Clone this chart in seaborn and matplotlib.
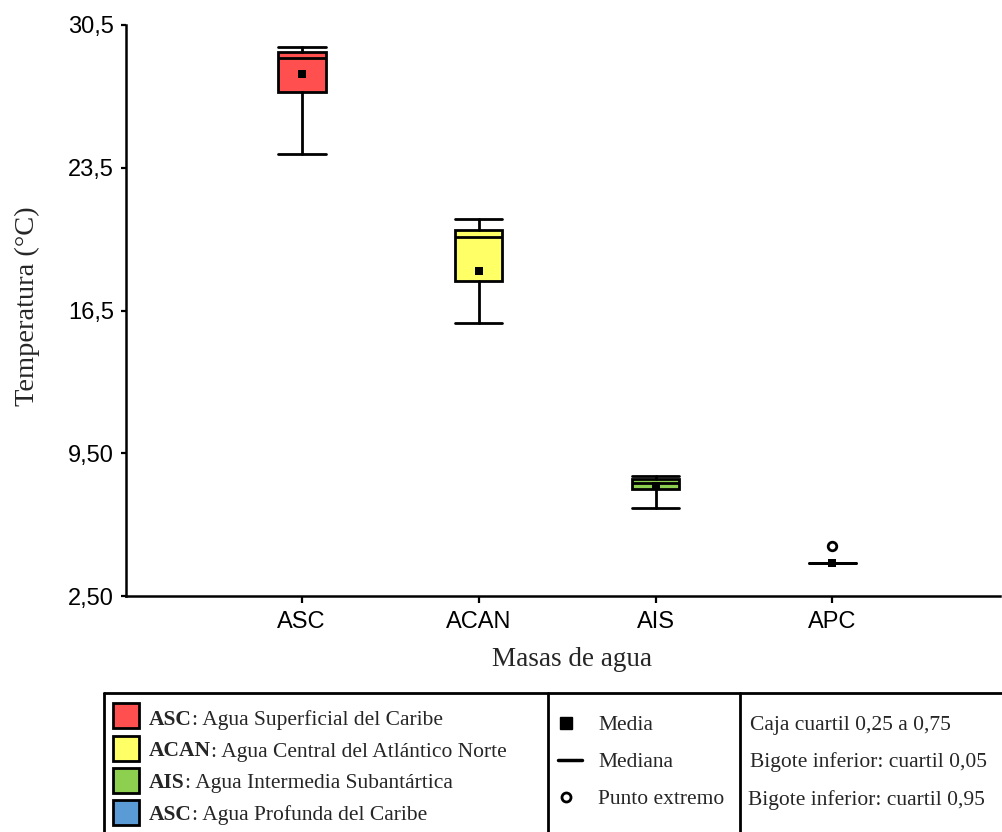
import matplotlib
matplotlib.use("Agg")
import matplotlib.pyplot as plt
from matplotlib.patches import Rectangle
from matplotlib.lines import Line2D
import seaborn as sns
import pandas as pd

# Water masses and their temperature summaries (°C)
masses = ["ASC", "ACAN", "AIS", "APC"]
whisker_low = [24.18, 15.91, 6.83, 4.13]
q25 = [27.20, 17.95, 7.75, 4.13]
median = [28.86, 20.10, 8.06, 4.13]
q75 = [29.20, 20.45, 8.22, 4.13]
whisker_high = [29.44, 20.99, 8.39, 4.13]
mean = [28.12, 18.44, 7.87, 4.13]
extreme_points = [[], [], [], [4.97]]
colors = ["#FF4F4F", "#FFFF66", "#8DCF4F", "#5B9BD5"]

y_ticks = [2.5, 9.5, 16.5, 23.5, 30.5]
y_ticklabels = ["2,50", "9,50", "16,5", "23,5", "30,5"]

legend_names = [
    ("ASC", ": Agua Superficial del Caribe"),
    ("ACAN", ": Agua Central del Atlántico Norte"),
    ("AIS", ": Agua Intermedia Subantártica"),
    ("ASC", ": Agua Profunda del Caribe"),
]
legend_symbols = ["Media", "Mediana", "Punto extremo"]
legend_notes = ["Caja cuartil 0,25 a 0,75",
                "Bigote inferior: cuartil 0,05",
                "Bigote inferior: cuartil 0,95"]

sns.set_theme(style="ticks")
plt.rcParams["font.family"] = ["Liberation Sans", "DejaVu Sans"]

W, H = 1002, 832
fig = plt.figure(figsize=(W / 100, H / 100), dpi=100)
ax = fig.add_axes([126 / W, 1 - 596 / H, (1000 - 126) / W, (596 - 25) / H])

stats = []
for i, name in enumerate(masses):
    stats.append(dict(label=name, whislo=whisker_low[i], q1=q25[i], med=median[i],
                      q3=q75[i], whishi=whisker_high[i], mean=mean[i],
                      fliers=extreme_points[i]))

positions = list(range(len(masses)))
bp = ax.bxp(stats, positions=positions, widths=0.27, capwidths=0.27,
            patch_artist=True, showfliers=False, showmeans=False,
            boxprops=dict(edgecolor="black", linewidth=2.0),
            medianprops=dict(color="black", linewidth=2.0),
            whiskerprops=dict(color="black", linewidth=2.0),
            capprops=dict(color="black", linewidth=2.0))
for patch, c in zip(bp["boxes"], colors):
    patch.set_facecolor(c)

# means and extreme values
df_mean = pd.DataFrame({"x": positions, "y": mean})
sns.scatterplot(data=df_mean, x="x", y="y", marker="s", s=40, color="black",
                edgecolor="black", linewidth=0, ax=ax, zorder=5)
ext_x = [i for i, pts in enumerate(extreme_points) for _ in pts]
ext_y = [v for pts in extreme_points for v in pts]
sns.scatterplot(x=ext_x, y=ext_y, marker="o", s=38, facecolor="white",
                edgecolor="black", linewidth=2.0, ax=ax, zorder=5)

ax.set_xlim(-0.993, 3.947)
ax.set_ylim(2.5, 30.5)
ax.set_xticks(positions)
ax.set_xticklabels(masses, fontsize=17)
ax.set_yticks(y_ticks)
ax.set_yticklabels(y_ticklabels, fontsize=17)
ax.tick_params(axis="y", direction="out", length=3.5, width=1.6, pad=5, colors="black")
ax.tick_params(axis="x", direction="out", length=5, width=1.6, pad=6, colors="black")
sns.despine(ax=ax)
for s in ["left", "bottom"]:
    ax.spines[s].set_linewidth(1.8)
    ax.spines[s].set_color("black")
ax.grid(False)

ax.set_xlabel("Masas de agua", fontsize=19.5, family=["Liberation Serif"])
ax.set_ylabel("Temperatura (°C)", fontsize=20.5, family=["Liberation Serif"])
ax.xaxis.set_label_coords((572 - 126) / (1000 - 126), (596 - 647) / (596 - 25))
ax.yaxis.set_label_coords((40 - 126) / (1000 - 126), (596 - 306) / (596 - 25))


# ---- descriptive table below the plot (figure pixel coordinates) ----
def fx(x):
    return x / W


def fy(y):
    return 1 - y / H


def hline(x0, x1, y, lw=2.0):
    fig.add_artist(Line2D([fx(x0), fx(x1)], [fy(y), fy(y)], color="black", lw=lw,
                          transform=fig.transFigure))


def vline(x, y0, y1, lw=2.0):
    fig.add_artist(Line2D([fx(x), fx(x)], [fy(y0), fy(y1)], color="black", lw=lw,
                          transform=fig.transFigure))


hline(104, 1002, 693)
vline(104, 693, 832)
vline(548, 693, 832)
vline(740, 693, 832)

serif = ["Liberation Serif", "DejaVu Serif"]
fs = 15.5
row_tops = [703, 735.5, 768, 799.5]
baselines = [725, 756.5, 788, 820]
fig.canvas.draw()
renderer = fig.canvas.get_renderer()
for (abbr, rest), c, top, base in zip(legend_names, colors, row_tops, baselines):
    fig.add_artist(Rectangle((fx(113), fy(top + 25)), 26 / W, 25 / H,
                             facecolor=c, edgecolor="black", lw=2.0,
                             transform=fig.transFigure))
    t = fig.text(fx(149), fy(base), abbr, fontsize=fs, fontweight="bold",
                 family=serif, va="baseline", ha="left")
    ext = t.get_window_extent(renderer=renderer)
    fig.text(ext.x1 / W, fy(base), rest, fontsize=fs, family=serif,
             va="baseline", ha="left")

sym_base = [730, 767, 804]
fig.add_artist(Line2D([fx(566)], [fy(723)], marker="s", markersize=8.5, color="black",
                      linestyle="none", transform=fig.transFigure))
fig.add_artist(Line2D([fx(558), fx(582)], [fy(760), fy(760)], color="black", lw=2.5,
                      transform=fig.transFigure))
fig.add_artist(Line2D([fx(566)], [fy(797)], marker="o", markersize=6.5,
                      markerfacecolor="white", markeredgecolor="black",
                      markeredgewidth=2.0, linestyle="none", transform=fig.transFigure))
for label, base in zip(legend_symbols, sym_base):
    fig.text(fx(598), fy(base), label, fontsize=fs, family=serif,
             va="baseline", ha="left")

note_base = [730, 767, 805]
note_x = [750, 750, 748]
for label, x, base in zip(legend_notes, note_x, note_base):
    fig.text(fx(x), fy(base), label, fontsize=fs, family=serif,
             va="baseline", ha="left")

fig.savefig("out.png", dpi=100, facecolor="white")
